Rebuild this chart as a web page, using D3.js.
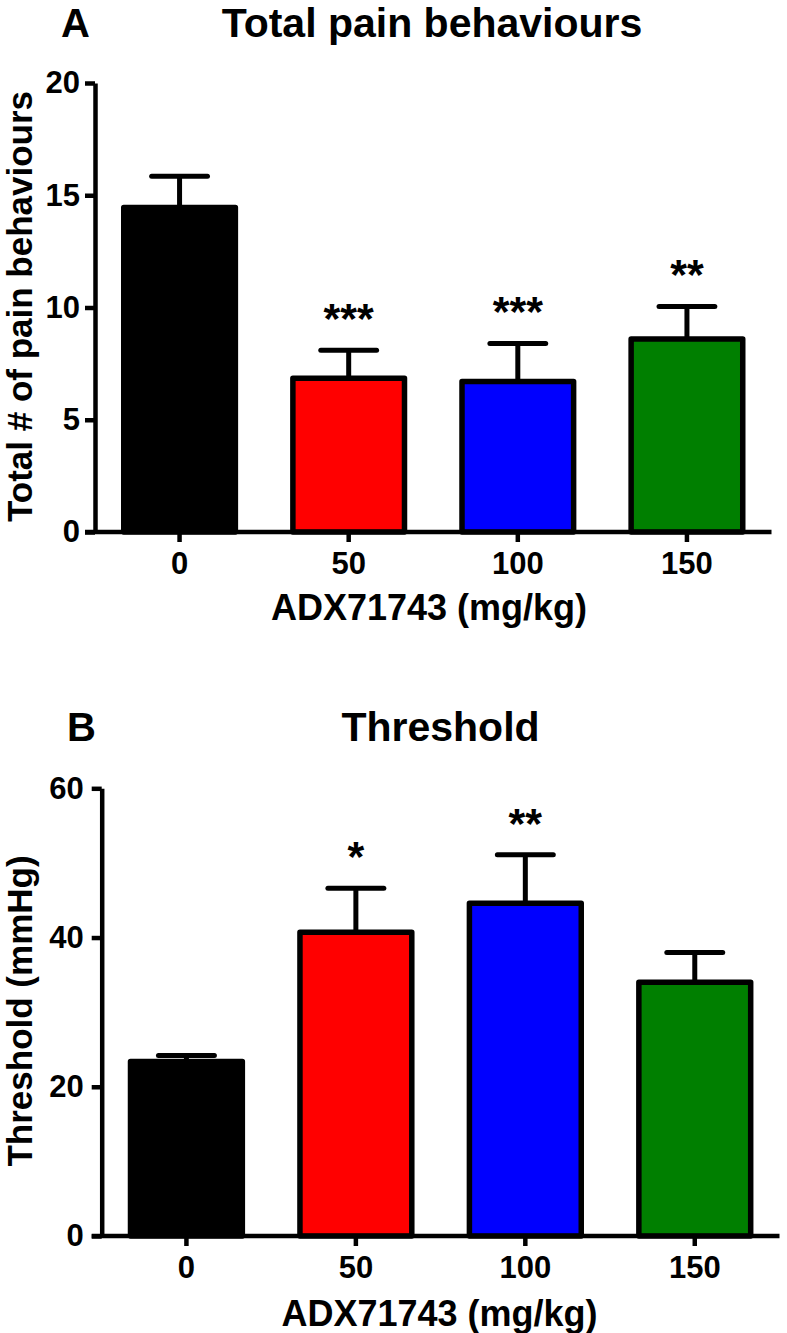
<!DOCTYPE html>
<html>
<head>
<meta charset="utf-8">
<script src="https://cdn.jsdelivr.net/npm/d3@7/dist/d3.min.js"></script>
<style>
  html, body { margin: 0; padding: 0; background: #fff; }
  svg text { font-family: "Liberation Sans", Arial, Helvetica, sans-serif; font-weight: bold; fill: #000; }
</style>
</head>
<body>
<svg id="chart" width="787" height="1333"></svg>
<script>
// ---------- data ----------
const categories = ["0", "50", "100", "150"];
const barColors = ["#000000", "#ff0000", "#0000ff", "#007f00"];

const painMeans = [14.45, 6.85, 6.7, 8.6];
const painSEM   = [1.4, 1.25, 1.7, 1.45];
const painStars = ["", "***", "***", "**"];
const painTicks = [0, 5, 10, 15, 20];

const thrMeans = [23.4, 40.7, 44.6, 34.0];
const thrSEM   = [0.8, 5.9, 6.5, 4.0];
const thrStars = ["", "*", "**", ""];
const thrTicks = [0, 20, 40, 60];

const xTitle = "ADX71743 (mg/kg)";

// ---------- drawing ----------
const svg = d3.select("#chart");

function panel(cfg) {
  const g = svg.append("g");
  const x = d3.scaleBand().domain(categories)
    .range([cfg.left, cfg.right]).paddingInner(0.34).paddingOuter(0.17);
  const y = d3.scaleLinear().domain([0, cfg.ymax]).range([cfg.bottom, cfg.top]);

  const data = categories.map((c, i) => ({ c, m: cfg.means[i], e: cfg.sem[i], s: cfg.stars[i], col: barColors[i] }));

  // error bars (behind bars)
  const capW = x.bandwidth() * 0.5;
  const eb = g.append("g").attr("stroke", "#000").attr("stroke-width", 5).attr("stroke-linecap", "round");
  eb.selectAll("line.v").data(data).join("line")
    .attr("x1", d => x(d.c) + x.bandwidth() / 2).attr("x2", d => x(d.c) + x.bandwidth() / 2)
    .attr("y1", d => y(d.m)).attr("y2", d => y(d.m + d.e)).attr("stroke-linecap", "butt");
  eb.selectAll("line.h").data(data).join("line")
    .attr("x1", d => x(d.c) + x.bandwidth() / 2 - capW / 2)
    .attr("x2", d => x(d.c) + x.bandwidth() / 2 + capW / 2)
    .attr("y1", d => y(d.m + d.e)).attr("y2", d => y(d.m + d.e));

  // bars
  g.append("g").selectAll("rect").data(data).join("rect")
    .attr("x", d => x(d.c)).attr("width", x.bandwidth())
    .attr("y", d => y(d.m)).attr("height", d => y(0) - y(d.m))
    .attr("fill", d => d.col).attr("stroke", "#000").attr("stroke-width", 5.5)
    .attr("stroke-linejoin", "round");

  // stars
  g.append("g").selectAll("text").data(data.filter(d => d.s)).join("text")
    .attr("x", d => x(d.c) + x.bandwidth() / 2)
    .attr("y", d => y(d.m + d.e) - 17)
    .attr("text-anchor", "middle").attr("font-size", 43)
    .text(d => d.s);

  // axes
  const yAxis = g.append("g").attr("transform", `translate(${cfg.left},0)`)
    .call(d3.axisLeft(y).tickValues(cfg.ticks).tickSize(10).tickSizeOuter(0).tickPadding(cfg.yPad));
  const xAxis = g.append("g").attr("transform", `translate(0,${cfg.bottom})`)
    .call(d3.axisBottom(x).tickSize(10).tickSizeOuter(0).tickPadding(10));
  [yAxis, xAxis].forEach(a => {
    a.selectAll("path.domain").attr("stroke", "#000").attr("stroke-width", 4.5);
    a.selectAll(".tick line").attr("stroke", "#000").attr("stroke-width", 4.5);
    a.selectAll(".tick text").attr("font-size", 31).attr("font-family", null).attr("fill", "#000");
  });
  xAxis.select("path.domain").attr("d", `M${cfg.left - 10},0H${cfg.right}`);

  // labels
  g.append("text").attr("transform", "rotate(-90)")
    .attr("x", -cfg.yLabelCenter).attr("y", 32)
    .attr("text-anchor", "middle").attr("font-size", 35).text(cfg.yLabel);
  g.append("text").attr("x", cfg.xLabelCenter).attr("y", cfg.xLabelBase)
    .attr("text-anchor", "middle").attr("font-size", 36).text(xTitle);
  g.append("text").attr("x", cfg.letterX).attr("y", cfg.titleBase)
    .attr("font-size", 40).text(cfg.letter);
  g.append("text").attr("x", cfg.titleCenter).attr("y", cfg.titleBase)
    .attr("text-anchor", "middle").attr("font-size", 41).text(cfg.title);
}

panel({
  left: 95, right: 771.5, top: 83, bottom: 532, ymax: 20,
  means: painMeans, sem: painSEM, stars: painStars, ticks: painTicks, yPad: 5,
  yLabel: "Total # of pain behaviours", yLabelCenter: 306.5,
  xLabelCenter: 429, xLabelBase: 620,
  letter: "A", letterX: 61, title: "Total pain behaviours", titleCenter: 432, titleBase: 37
});

panel({
  left: 101.7, right: 779.5, top: 788.3, bottom: 1236, ymax: 60,
  means: thrMeans, sem: thrSEM, stars: thrStars, ticks: thrTicks, yPad: 8,
  yLabel: "Threshold (mmHg)", yLabelCenter: 1011,
  xLabelCenter: 439.5, xLabelBase: 1326,
  letter: "B", letterX: 67, title: "Threshold", titleCenter: 440.5, titleBase: 741
});
</script>
</body>
</html>
